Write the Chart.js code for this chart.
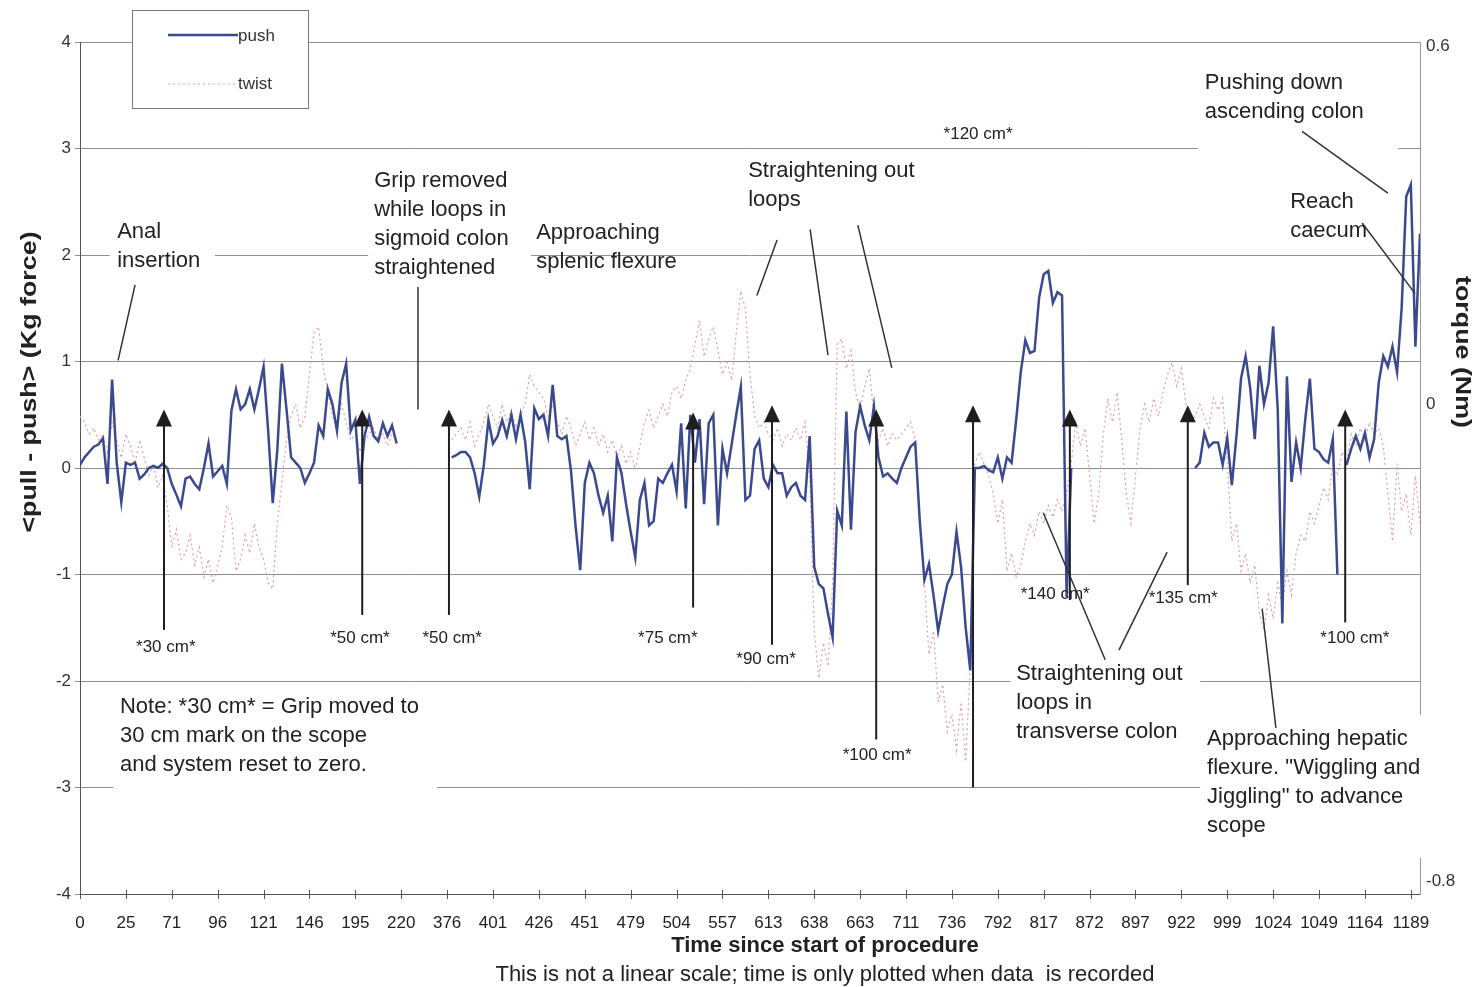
<!DOCTYPE html>
<html>
<head>
<meta charset="utf-8">
<title>push / twist</title>
<script src="https://cdn.jsdelivr.net/npm/chart.js@4.4.0/dist/chart.umd.min.js"></script>
<style>
  html, body { margin: 0; padding: 0; background: #fff; }
  #wrap { width: 1479px; height: 987px; }
</style>
</head>
<body>
<div id="wrap"><canvas id="chart"></canvas></div>
<script>
const FONT = '"Liberation Sans", Arial, sans-serif';

// x tick labels (one every 10 samples)
const tickLabels = ['0', '25', '71', '96', '121', '146', '195', '220', '376', '401',
  '426', '451', '479', '504', '557', '613', '638', '663', '711', '736',
  '792', '817', '872', '897', '922', '999', '1024', '1049', '1164', '1189'];

// <pull - push> (Kg force), one value per sample
const pushValues = [
  0.03, 0.1, 0.15, 0.2, 0.22, 0.28, -0.15, 0.83, 0.05, -0.32,
  0.05, 0.03, 0.05, -0.1, -0.06, 0.0, 0.02, 0.0, 0.04, 0.0,
  -0.15, -0.25, -0.36, -0.1, -0.08, -0.15, -0.2, 0.0, 0.23, -0.08,
  -0.03, 0.02, -0.15, 0.54, 0.74, 0.55, 0.6, 0.74, 0.55, 0.74,
  0.95, 0.35, -0.33, 0.17, 0.98, 0.55, 0.1, 0.05, 0.0, -0.14,
  -0.05, 0.05, 0.4, 0.3, 0.74, 0.6, 0.35, 0.8, 0.98, 0.35,
  0.45, -0.15, 0.3, 0.48, 0.3, 0.25, 0.42, 0.3, 0.4, 0.23,
  null, null, null, null, null, null, null, null, null, null,
  null, 0.1, 0.12, 0.15, 0.15, 0.1, -0.05, -0.27, 0.03, 0.45,
  0.23, 0.3, 0.45, 0.3, 0.5, 0.27, 0.5, 0.25, -0.2, 0.56,
  0.46, 0.5, 0.3, 0.78, 0.3, 0.27, 0.3, -0.03, -0.55, -0.96,
  -0.14, 0.05, -0.05, -0.26, -0.42, -0.26, -0.69, 0.1, -0.05, -0.34,
  -0.6, -0.84, -0.3, -0.14, -0.54, -0.5, -0.1, -0.14, -0.05, 0.03,
  -0.22, 0.42, -0.38, 0.5, 0.05, 0.46, -0.34, 0.42, 0.5, -0.54,
  0.18, -0.05, 0.22, 0.5, 0.76, -0.3, -0.26, 0.18, 0.26, -0.1,
  -0.18, 0.03, -0.05, -0.05, -0.26, -0.18, -0.14, -0.26, -0.3, 0.3,
  -0.93, -1.09, -1.13, -1.37, -1.59, -0.4, -0.54, 0.53, -0.58, 0.34,
  0.58, 0.4, 0.26, 0.58, 0.1, -0.08, -0.05, -0.1, -0.14, 0.0,
  0.1, 0.2, 0.24, -0.5, -1.05, -0.9, -1.2, -1.53, -1.3, -1.09,
  -1.0, -0.6, -0.93, -1.5, -1.9, 0.0, 0.0, 0.02, -0.02, -0.04,
  0.1, -0.1, 0.1, 0.05, 0.45, 0.9, 1.2, 1.08, 1.1, 1.6,
  1.82, 1.85, 1.55, 1.65, 1.62, -1.21, 0.0, null, null, null,
  null, null, null, null, null, null, null, null, null, null,
  null, null, null, null, null, null, null, null, null, null,
  null, null, null, 0.0, 0.05, 0.33, 0.2, 0.24, 0.24, 0.03,
  0.28, -0.16, 0.3, 0.84, 1.05, 0.75, 0.27, 0.96, 0.6, 0.8,
  1.33, 0.55, -1.46, 0.86, -0.13, 0.24, 0.0, 0.46, 0.84, 0.18,
  0.15, 0.08, 0.05, 0.27, -1.0, null, 0.03, 0.18, 0.3, 0.18,
  0.33, 0.1, 0.27, 0.8, 1.05, 0.95, 1.14, 0.9, 1.5, 2.55,
  2.66, 1.14, 2.2
];

// torque (Nm), same samples, right axis
const twistValues = [
  -0.02, -0.03, -0.05, -0.04, -0.06, -0.05, -0.08, -0.03, -0.06, -0.09,
  -0.05, -0.07, -0.1, -0.06, -0.09, -0.12, -0.1, -0.14, -0.12, -0.17,
  -0.24, -0.21, -0.26, -0.25, -0.22, -0.27, -0.24, -0.29, -0.26, -0.3,
  -0.27, -0.24, -0.17, -0.19, -0.28, -0.26, -0.22, -0.25, -0.2, -0.24,
  -0.26, -0.3, -0.31, -0.2, -0.13, -0.06, -0.02, 0.0, -0.04, -0.02,
  0.05, 0.12, 0.13, 0.06, 0.02, -0.02, -0.04, 0.0, -0.03, -0.06,
  -0.05, -0.08, -0.06, -0.05, -0.04, -0.06, -0.05, -0.07, -0.05, -0.06,
  null, null, null, null, null, null, null, null, null, null,
  null, -0.06, -0.05, -0.04, -0.06, -0.03, -0.07, -0.05, -0.03, 0.0,
  -0.02, -0.04, 0.0, -0.03, -0.01, -0.04, -0.02, 0.0, 0.05, 0.03,
  0.02, 0.01, -0.02, 0.0, -0.03, -0.05, -0.02, -0.04, -0.07, -0.05,
  -0.03, -0.06, -0.04, -0.07, -0.05, -0.08, -0.06, -0.09, -0.07, -0.1,
  -0.08, -0.11, -0.07, -0.03, -0.01, -0.04, -0.02, 0.0, -0.02, 0.02,
  0.03, 0.01, 0.04, 0.06, 0.1, 0.14, 0.08, 0.11, 0.13, 0.09,
  0.05, 0.07, 0.04, 0.12, 0.19, 0.16, 0.05, -0.02, -0.04, -0.03,
  -0.05, -0.06, -0.04, -0.07, -0.05, -0.06, -0.04, -0.06, -0.03, -0.12,
  -0.38, -0.46, -0.4, -0.44, -0.3, 0.1, 0.11, 0.06, 0.09, 0.02,
  -0.01, 0.03, 0.06, -0.02, -0.06, -0.04, -0.07, -0.05, -0.06, -0.05,
  -0.04, -0.03, -0.06, -0.2, -0.3, -0.42, -0.38, -0.5, -0.47, -0.55,
  -0.52, -0.58, -0.5, -0.6, -0.44, -0.1, -0.08, -0.1, -0.12, -0.15,
  -0.2, -0.16, -0.28, -0.25, -0.29, -0.27, -0.23, -0.2, -0.22, -0.18,
  -0.2, -0.17, -0.19, -0.16, -0.18, -0.15, -0.1, -0.03, -0.07, -0.04,
  -0.12, -0.2, -0.15, -0.05, 0.01, -0.03, 0.02, -0.06, -0.15, -0.2,
  -0.12, -0.04, 0.0, -0.03, 0.01, -0.02, 0.02, 0.05, 0.07, 0.03,
  0.06, 0.0, -0.03, -0.02, 0.0, -0.02, -0.04, 0.01, -0.01, 0.01,
  -0.1, -0.23, -0.2, -0.28, -0.25, -0.3, -0.27, -0.35, -0.38, -0.32,
  -0.36, -0.3, -0.34, -0.28, -0.32, -0.25, -0.22, -0.23, -0.18, -0.2,
  -0.17, -0.14, -0.16, -0.1, -0.12, -0.08, -0.1, -0.05, -0.07, -0.04,
  -0.06, -0.03, -0.05, -0.04, -0.07, -0.15, -0.23, -0.1, -0.18, -0.15,
  -0.22, -0.12, -0.2
];

const torqueTicks = [-0.8, 0, 0.6];

// annotations, in axis units (sample index, Kg force)
// white text boxes: x0, x1, yTop, yBottom
const textBoxes = [
  [6.5, 29.4, 2.33, 1.81],
  [62.8, 98.3, 2.85, 1.76],
  [243.6, 287.2, 3.78, 2.97],
  [7.2, 77.8, -2.09, -3.12],
  [202.7, 244.1, -1.80, -2.67],
  [244.1, 293.1, -2.32, -3.66]
];

// x (left edge), y (first line), lines
const notes = [
  [8.1, 2.22, ['Anal', 'insertion']],
  [64.1, 2.70, ['Grip removed', 'while loops in', 'sigmoid colon', 'straightened']],
  [99.4, 2.21, ['Approaching', 'splenic flexure']],
  [145.6, 2.79, ['Straightening out', 'loops']],
  [245.1, 3.62, ['Pushing down', 'ascending colon']],
  [263.7, 2.50, ['Reach', 'caecum']],
  [8.7, -2.24, ['Note: *30 cm* = Grip moved to', '30 cm mark on the scope', 'and system reset to zero.']],
  [204.0, -1.93, ['Straightening out', 'loops in', 'transverse colon']],
  [245.6, -2.54, ['Approaching hepatic', 'flexure. "Wiggling and', 'Jiggling" to advance', 'scope']]
];

// grip position labels: text, x centre, y
const gripLabels = [
  ['*120 cm*', 195.7, 3.13],
  ['*30 cm*', 18.7, -1.68],
  ['*50 cm*', 61.0, -1.60],
  ['*50 cm*', 81.1, -1.60],
  ['*75 cm*', 128.1, -1.60],
  ['*90 cm*', 149.5, -1.80],
  ['*100 cm*', 173.7, -2.70],
  ['*140 cm*', 212.5, -1.19],
  ['*135 cm*', 240.4, -1.22],
  ['*100 cm*', 277.8, -1.60]
];

// reset arrows: x, tip, bottom
const arrows = [
  [18.3, 0.55, -1.52], [61.5, 0.55, -1.38], [80.4, 0.55, -1.38],
  [133.6, 0.52, -1.31], [150.8, 0.59, -1.66], [173.5, 0.55, -2.55],
  [194.6, 0.59, -3.0], [215.7, 0.55, -1.24], [241.4, 0.59, -1.10],
  [275.7, 0.55, -1.45]
];

// leader lines: x1, y1, x2, y2
const leaders = [
  [12.0, 1.72, 8.3, 1.01],
  [73.65, 1.70, 73.65, 0.55],
  [151.9, 2.14, 147.5, 1.62],
  [159.1, 2.24, 163.0, 1.06],
  [169.5, 2.28, 176.9, 0.94],
  [266.3, 3.16, 285.0, 2.58],
  [279.4, 2.30, 290.9, 1.64],
  [223.4, -1.80, 209.9, -0.42],
  [226.4, -1.71, 236.9, -0.79],
  [257.6, -1.32, 260.6, -2.44]
];

const PUSH_COLOR = '#3b4a8f';
const TWIST_COLOR = '#e39aae';

const toPoints = arr => arr.map((v, i) => ({ x: i, y: v }));

function rotatedTitle(ctx, text, cx, cy, angle) {
  ctx.save();
  ctx.translate(cx, cy);
  ctx.rotate(angle);
  ctx.scale(1.22, 1);
  ctx.font = 'bold 22px ' + FONT;
  ctx.textAlign = 'center';
  ctx.textBaseline = 'middle';
  ctx.fillText(text, 0, 0);
  ctx.restore();
}

const notesPlugin = {
  id: 'notes',
  beforeDatasetsDraw(chart) {
    const { ctx } = chart;
    const sx = chart.scales.x, sy = chart.scales.y;
    ctx.save();
    ctx.fillStyle = '#fff';
    textBoxes.forEach(([x0, x1, y0, y1]) => {
      const px0 = sx.getPixelForValue(x0), px1 = sx.getPixelForValue(x1);
      const py0 = sy.getPixelForValue(y0), py1 = sy.getPixelForValue(y1);
      ctx.fillRect(px0, py0, px1 - px0, py1 - py0);
    });
    ctx.restore();
  },
  afterDatasetsDraw(chart) {
    const { ctx, chartArea } = chart;
    const sx = chart.scales.x, sy = chart.scales.y;
    const X = v => sx.getPixelForValue(v);
    const Y = v => sy.getPixelForValue(v);
    ctx.save();

    // leader lines
    ctx.strokeStyle = '#333';
    ctx.lineWidth = 1.5;
    leaders.forEach(([x1, y1, x2, y2]) => {
      ctx.beginPath();
      ctx.moveTo(X(x1), Y(y1));
      ctx.lineTo(X(x2), Y(y2));
      ctx.stroke();
    });

    // arrows
    ctx.strokeStyle = '#1e1e1e';
    ctx.fillStyle = '#1e1e1e';
    ctx.lineWidth = 2;
    arrows.forEach(([ax, top, bottom]) => {
      const px = X(ax), pt = Y(top), pb = Y(bottom);
      ctx.beginPath();
      ctx.moveTo(px, pb);
      ctx.lineTo(px, pt + 12);
      ctx.stroke();
      ctx.beginPath();
      ctx.moveTo(px, pt);
      ctx.lineTo(px - 8, pt + 17);
      ctx.lineTo(px + 8, pt + 17);
      ctx.closePath();
      ctx.fill();
    });

    // text notes
    ctx.fillStyle = '#222';
    ctx.textBaseline = 'middle';
    ctx.textAlign = 'left';
    ctx.font = '22px ' + FONT;
    notes.forEach(([nx, ny, lines]) => {
      lines.forEach((line, k) => ctx.fillText(line, X(nx), Y(ny) + k * 29));
    });

    ctx.textAlign = 'center';
    ctx.font = '17px ' + FONT;
    gripLabels.forEach(([t, gx, gy]) => ctx.fillText(t, X(gx), Y(gy)));

    // x axis tick crosses
    ctx.strokeStyle = '#555';
    ctx.lineWidth = 1;
    sx.ticks.forEach(t => {
      const px = Math.round(X(t.value)) + 0.5;
      ctx.beginPath();
      ctx.moveTo(px, chartArea.bottom - 4);
      ctx.lineTo(px, chartArea.bottom + 5);
      ctx.stroke();
    });

    // legend
    const lx = chartArea.left + 52, ly = chartArea.top - 32;
    ctx.fillStyle = '#fff';
    ctx.fillRect(lx, ly, 176, 98);
    ctx.strokeStyle = '#777';
    ctx.lineWidth = 1;
    ctx.strokeRect(lx + 0.5, ly + 0.5, 176, 98);
    ctx.strokeStyle = PUSH_COLOR;
    ctx.lineWidth = 2.5;
    ctx.beginPath();
    ctx.moveTo(lx + 36, ly + 25);
    ctx.lineTo(lx + 106, ly + 25);
    ctx.stroke();
    ctx.strokeStyle = TWIST_COLOR;
    ctx.lineWidth = 1.2;
    ctx.setLineDash([2, 3]);
    ctx.beginPath();
    ctx.moveTo(lx + 36, ly + 74);
    ctx.lineTo(lx + 106, ly + 74);
    ctx.stroke();
    ctx.setLineDash([]);
    ctx.fillStyle = '#333';
    ctx.textAlign = 'left';
    ctx.font = '17px ' + FONT;
    ctx.fillText('push', lx + 106, ly + 26);
    ctx.fillText('twist', lx + 106, ly + 74);

    // axis titles
    ctx.fillStyle = '#222';
    ctx.textAlign = 'center';
    ctx.font = 'bold 22px ' + FONT;
    ctx.fillText('Time since start of procedure', 825, 946);
    ctx.font = '22px ' + FONT;
    ctx.fillText('This is not a linear scale; time is only plotted when data  is recorded', 825, 975);
    rotatedTitle(ctx, '<pull - push> (Kg force)', 30, 382, -Math.PI / 2);
    rotatedTitle(ctx, 'torque (Nm)', 1462, 352, Math.PI / 2);

    ctx.restore();
  }
};

new Chart(document.getElementById('chart'), {
  type: 'line',
  data: {
    datasets: [
      {
        label: 'push',
        data: toPoints(pushValues),
        yAxisID: 'y',
        borderColor: PUSH_COLOR,
        borderWidth: 2.5,
        pointRadius: 0,
        tension: 0,
        spanGaps: false
      },
      {
        label: 'twist',
        data: toPoints(twistValues),
        yAxisID: 'y2',
        borderColor: TWIST_COLOR,
        borderWidth: 1.2,
        borderDash: [2, 3],
        pointRadius: 0,
        tension: 0,
        spanGaps: false
      }
    ]
  },
  options: {
    responsive: true,
    maintainAspectRatio: false,
    animation: false,
    layout: { padding: { top: 42, left: 0, right: 0, bottom: 0 } },
    plugins: {
      legend: { display: false },
      tooltip: { enabled: false }
    },
    scales: {
      x: {
        type: 'linear',
        min: 0,
        max: pushValues.length - 1,
        afterBuildTicks: s => { s.ticks = tickLabels.map((_, k) => ({ value: k * 10 })); },
        ticks: {
          callback: v => tickLabels[Math.round(v / 10)],
          autoSkip: false,
          maxRotation: 0,
          padding: 11,
          color: '#222',
          font: { family: FONT, size: 17 }
        },
        grid: { display: false },
        border: { display: true, color: '#555', width: 1 },
        afterFit: s => { s.height = 93; }
      },
      y: {
        position: 'left',
        min: -4,
        max: 4,
        ticks: {
          stepSize: 1,
          padding: 4,
          color: '#333',
          font: { family: FONT, size: 17 }
        },
        grid: { color: '#8f8f8f', lineWidth: 1, tickLength: 5 },
        border: { color: '#555' },
        afterFit: s => { s.width = 80; }
      },
      y2: {
        position: 'right',
        min: -0.822,
        max: 0.608,
        afterBuildTicks: s => { s.ticks = torqueTicks.map(v => ({ value: v })); },
        ticks: {
          callback: v => String(v),
          padding: 6,
          color: '#333',
          font: { family: FONT, size: 17 }
        },
        grid: { drawOnChartArea: false, drawTicks: false },
        border: { color: '#999' },
        afterFit: s => { s.width = 59; }
      }
    }
  },
  plugins: [notesPlugin]
});
</script>
</body>
</html>
